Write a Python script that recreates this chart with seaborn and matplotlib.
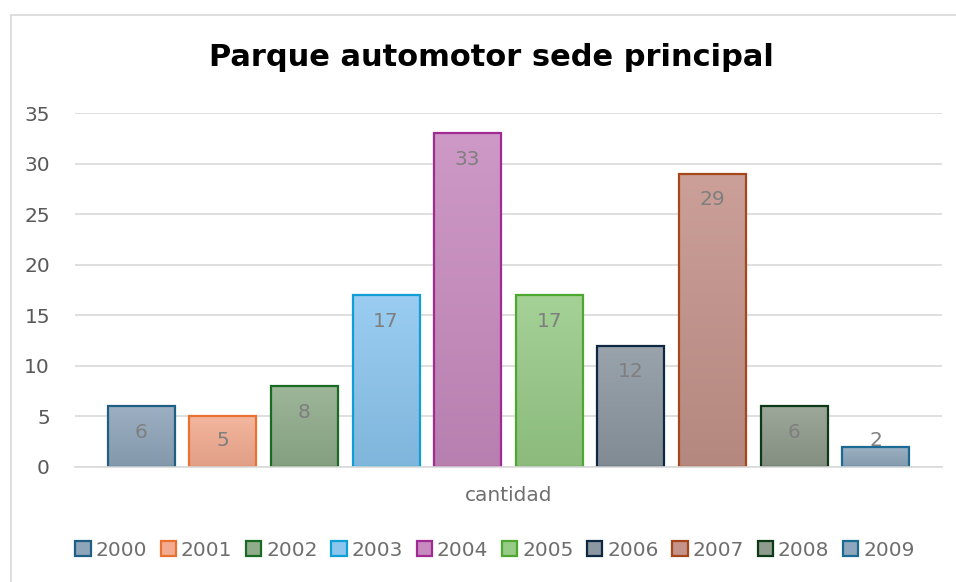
import matplotlib
matplotlib.use("Agg")
import matplotlib.pyplot as plt
import seaborn as sns
import numpy as np
import pandas as pd
from matplotlib.colors import LinearSegmentedColormap, to_rgb
from matplotlib.patches import Patch
from matplotlib.lines import Line2D

# ---------- DATA ----------
years = ["2000", "2001", "2002", "2003", "2004", "2005", "2006", "2007", "2008", "2009"]
cantidad = [6, 5, 8, 17, 33, 17, 12, 29, 6, 2]

fill_colors = ["#8FA5BA", "#F3AC91", "#90AC8B", "#8CC6EF", "#C88BBF",
               "#98CB88", "#8C97A1", "#C4938A", "#8F9B8C", "#8FA7BC"]
edge_colors = ["#1F5F85", "#E97132", "#196B24", "#0F9ED5", "#A02B93",
               "#4EA72E", "#0E2841", "#A5471A", "#0C3A16", "#1A6A94"]

df = pd.DataFrame({"year": years, "cantidad": cantidad})

sns.set_theme(style="white")
plt.rcParams["font.family"] = ["DejaVu Sans"]

fig = plt.figure(figsize=(9.56, 5.82), dpi=100)
ax = fig.add_axes([75 / 956, 1 - 467 / 582, (942 - 75) / 956, (467 - 113) / 582])

sns.barplot(data=df, x="year", y="cantidad", hue="year", palette=fill_colors,
            saturation=1, width=0.82, legend=False, ax=ax)

# gradient fill (light top -> darker bottom), clipped to each bar
grad = np.linspace(0, 1, 100).reshape(-1, 1)
for bar, fc, ec in zip(ax.patches, fill_colors, edge_colors):
    base = np.array(to_rgb(fc))
    top = base + (1 - base) * 0.12
    bottom = base * 0.92
    cmap = LinearSegmentedColormap.from_list("g", [top, bottom])
    x0, w, h = bar.get_x(), bar.get_width(), bar.get_height()
    im = ax.imshow(grad, cmap=cmap, extent=(x0, x0 + w, 0, h), origin="upper",
                   aspect="auto", zorder=0.9)
    im.set_clip_path(bar)
    bar.set_facecolor("none")
    bar.set_edgecolor(ec)
    bar.set_linewidth(1.6)

# data labels "inside end", kept above the baseline for short bars
for bar, v in zip(ax.patches, cantidad):
    ax.text(bar.get_x() + bar.get_width() / 2, max(v - 2.6, 2.6), str(v),
            ha="center", va="center", fontsize=14.5, color="#7F7F7F")

ax.set_ylim(0, 35)
ax.set_xlim(-0.81, 9.81)
ax.set_yticks(range(0, 36, 5))
ax.tick_params(axis="y", labelsize=14.5, labelcolor="#595959", length=0, pad=18)
ax.set_xticks([])
ax.set_ylabel("")
ax.set_xlabel("cantidad", fontsize=14.5, color="#6E6E6E", labelpad=14)
ax.grid(axis="y", color="#D9D9D9", linewidth=1.2)
ax.set_axisbelow(True)
for s in ["top", "right", "left"]:
    ax.spines[s].set_visible(False)
ax.spines["bottom"].set_color("#D9D9D9")
ax.spines["bottom"].set_linewidth(1.2)

fig.text(491 / 956, 1 - 57 / 582, "Parque automotor sede principal",
         ha="center", va="center", fontsize=22, fontweight="bold", color="black")

handles = [Patch(facecolor=fc, edgecolor=ec, linewidth=1.6, label=y)
           for fc, ec, y in zip(fill_colors, edge_colors, years)]
leg = fig.legend(handles=handles, loc="center", bbox_to_anchor=(495 / 956, 1 - 550 / 582),
                 ncol=10, frameon=False, fontsize=14.5, handlelength=0.75, handleheight=0.75,
                 handletextpad=0.25, columnspacing=0.68)
for t in leg.get_texts():
    t.set_color("#6E6E6E")

# chart area border (only top and left edges fall inside the picture)
bx, by = 11 / 956, 1 - 15 / 582
fig.add_artist(Line2D([bx, 1], [by, by], transform=fig.transFigure,
                      color="#D9D9D9", linewidth=1.2))
fig.add_artist(Line2D([bx, bx], [0, by], transform=fig.transFigure,
                      color="#D9D9D9", linewidth=1.2))

fig.savefig("out.png", dpi=100)
